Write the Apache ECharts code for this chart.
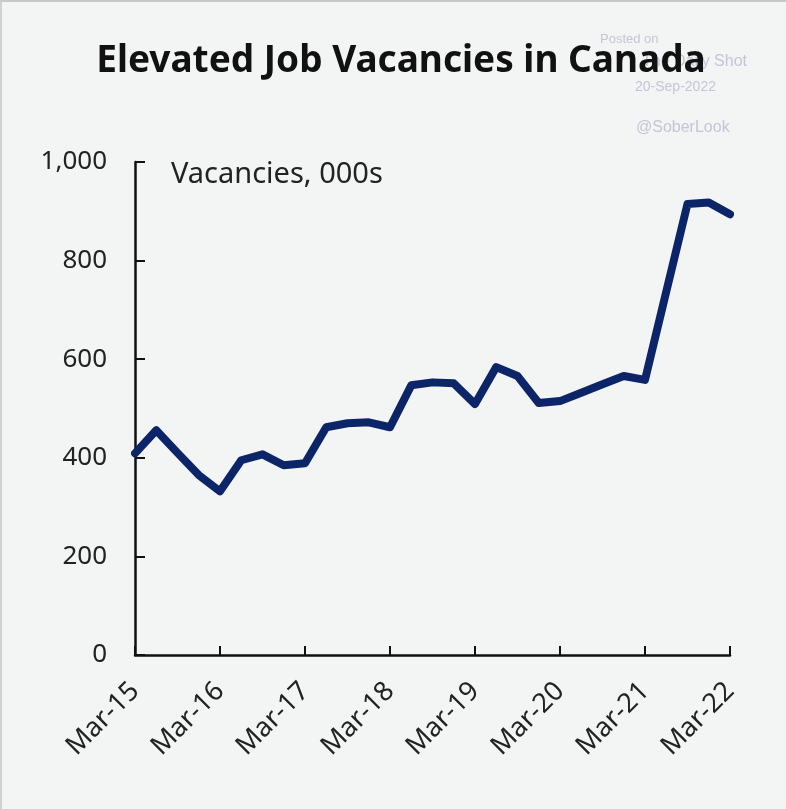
<!DOCTYPE html>
<html><head><meta charset="utf-8">
<script src="https://cdn.jsdelivr.net/npm/echarts@6/dist/echarts.min.js"></script>
<style>html,body{margin:0;padding:0;background:#f3f4f4}#c{width:786px;height:809px;box-sizing:border-box;border-top:2px solid #c8c8c8;border-left:2px solid #d0d0d0}</style>
</head><body><div id="c"></div>
<script>
const quarters = ['Mar-15','Jun-15','Sep-15','Dec-15','Mar-16','Jun-16','Sep-16','Dec-16','Mar-17','Jun-17','Sep-17','Dec-17','Mar-18','Jun-18','Sep-18','Dec-18','Mar-19','Jun-19','Sep-19','Dec-19','Mar-20','Jun-20','Sep-20','Dec-20','Mar-21','Jun-21','Sep-21','Dec-21','Mar-22'];
const vacancies = [409,456,410,365,332,395,407,385,389,462,470,472,462,547,553,551,509,584,566,511,515,532,549,566,558,737,915,918,894];
const yTicks = [0,200,400,600,800,1000];

const chart = echarts.init(document.getElementById('c'));
chart.setOption({
  backgroundColor:'#f3f4f4',
  animation:false,
  grid:{left:133,right:56,top:160,bottom:154},
  xAxis:{
    type:'category', data:quarters, boundaryGap:false,
    axisLine:{lineStyle:{color:'#111',width:2.5}},
    axisTick:{inside:true,length:9,interval:(i)=>i%4===0,lineStyle:{color:'#111',width:2}},
    axisLabel:{interval:(i)=>i%4===0,rotate:45,fontSize:27,color:'#222',fontFamily:'Noto Sans',margin:32}
  },
  yAxis:{
    type:'value',min:0,max:1000,interval:200,
    axisLine:{show:true,lineStyle:{color:'#111',width:2.5}},
    axisTick:{show:true,inside:true,length:10,lineStyle:{color:'#111',width:2}},
    splitLine:{show:false},
    axisLabel:{fontSize:26,color:'#222',fontFamily:'Noto Sans',margin:28,
      formatter:(v)=>yTicks.includes(v)?v.toLocaleString('en-US'):''}
  },
  series:[{type:'line',data:vacancies,symbol:'none',lineStyle:{color:'#0c2468',width:8,join:'round',cap:'round'},z:3}],
  graphic:[
    {type:'text',z:1,style:{x:598,y:31,text:'Posted on',font:'13px "Liberation Sans"',fill:'#c3c5d8'}},
    {type:'text',z:1,style:{x:745,y:52,align:'right',text:'The Daily Shot',font:'16px "Liberation Sans"',fill:'#c3c5d8'}},
    {type:'text',z:1,style:{x:633,y:78,text:'20-Sep-2022',font:'14px "Liberation Sans"',fill:'#c3c5d8'}},
    {type:'text',z:1,style:{x:634,y:118,text:'@SoberLook',font:'16px "Liberation Sans"',fill:'#c3c5d8'}},
    {type:'text',z:10,style:{x:399,y:59,text:'Elevated Job Vacancies in Canada',font:'bold 37px "Noto Sans"',fill:'#111',align:'center',verticalAlign:'middle'}},
    {type:'text',z:10,style:{x:169,y:173,text:'Vacancies, 000s',font:'29px "Noto Sans"',fill:'#222',verticalAlign:'middle'}}
  ]
});
</script></body></html>
